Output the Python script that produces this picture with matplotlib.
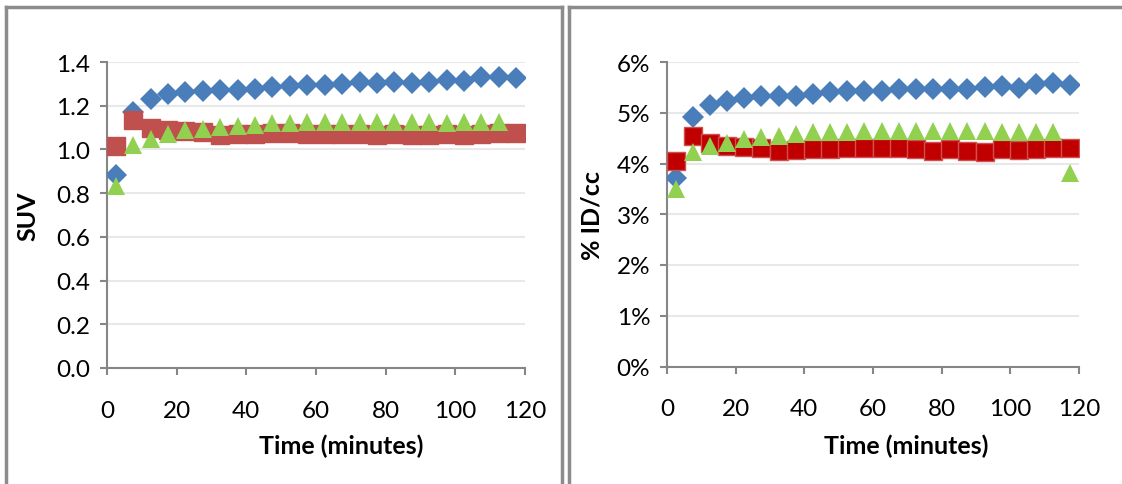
import matplotlib
matplotlib.use('Agg')
import matplotlib.pyplot as plt
from matplotlib.lines import Line2D
from matplotlib.ticker import FuncFormatter

plt.rcParams['font.family'] = ['Lato', 'DejaVu Sans']

# time points (minutes)
time = [2.5, 7.5, 12.5, 17.5, 22.5, 27.5, 32.5, 37.5, 42.5, 47.5, 52.5, 57.5,
        62.5, 67.5, 72.5, 77.5, 82.5, 87.5, 92.5, 97.5, 102.5, 107.5, 112.5, 117.5]

# left panel: SUV
suv_blue = [0.884, 1.172, 1.232, 1.252, 1.263, 1.267, 1.270, 1.273, 1.278, 1.285, 1.290, 1.293,
            1.293, 1.300, 1.308, 1.305, 1.308, 1.305, 1.310, 1.316, 1.312, 1.331, 1.331, 1.328]
suv_red = [1.015, 1.136, 1.098, 1.087, 1.083, 1.080, 1.067, 1.072, 1.072, 1.074, 1.074, 1.072,
           1.072, 1.072, 1.072, 1.064, 1.072, 1.067, 1.064, 1.072, 1.067, 1.072, 1.076, 1.076]
suv_green = [0.834, 1.020, 1.049, 1.069, 1.090, 1.095, 1.102, 1.108, 1.114, 1.119, 1.119, 1.124,
             1.126, 1.126, 1.126, 1.126, 1.126, 1.126, 1.126, 1.120, 1.126, 1.124, 1.126]

# right panel: %ID/cc
id_blue = [3.71, 4.92, 5.16, 5.24, 5.29, 5.33, 5.33, 5.33, 5.36, 5.40, 5.42, 5.42,
           5.42, 5.47, 5.47, 5.47, 5.47, 5.47, 5.50, 5.52, 5.48, 5.56, 5.59, 5.55]
id_red = [4.04, 4.54, 4.40, 4.35, 4.32, 4.30, 4.25, 4.27, 4.29, 4.29, 4.30, 4.30,
          4.31, 4.30, 4.29, 4.25, 4.29, 4.25, 4.23, 4.29, 4.27, 4.29, 4.31, 4.30]
id_green = [3.49, 4.22, 4.35, 4.40, 4.49, 4.52, 4.55, 4.59, 4.62, 4.62, 4.62, 4.65,
            4.65, 4.65, 4.65, 4.65, 4.65, 4.65, 4.65, 4.62, 4.63, 4.63, 4.63, 3.82]

x_ticks = [0, 20, 40, 60, 80, 100, 120]
suv_ticks = [0.0, 0.2, 0.4, 0.6, 0.8, 1.0, 1.2, 1.4]
id_ticks = [0, 1, 2, 3, 4, 5, 6]

BLUE = '#4A7EBB'
RED_L = '#C0504D'
RED_R = '#C00000'
GREEN = '#92D050'
AXIS = '#868686'
GRID = '#E8E8E8'

W, H = 1122, 485
fig = plt.figure(figsize=(W / 100, H / 100), dpi=100)


def style_axes(ax, yticks, xlabel, ylabel, xlab_pos, ylab_pos):
  ax.set_xlim(0, 120)
  ax.set_xticks(x_ticks)
  ax.set_yticks(yticks)
  ax.set_ylim(yticks[0], yticks[-1])
  ax.grid(axis='y', color=GRID, lw=1.5)
  ax.set_axisbelow(True)
  for s in ['top', 'right']:
    ax.spines[s].set_visible(False)
  for s in ['left', 'bottom']:
    ax.spines[s].set_color(AXIS)
    ax.spines[s].set_linewidth(1.5)
  ax.tick_params(axis='both', colors=AXIS, length=5, width=1.5, labelsize=17.5,
                 labelcolor='black')
  ax.tick_params(axis='x', pad=18)
  ax.tick_params(axis='y', pad=7)
  ax.set_xlabel(xlabel, fontsize=18, fontweight='bold', va='center')
  ax.set_ylabel(ylabel, fontsize=18, fontweight='bold', va='center')
  ax.xaxis.set_label_coords(*xlab_pos)
  ax.yaxis.set_label_coords(*ylab_pos)


def draw(ax, blue, red, green, red_face, red_edge):
  n = len(green)
  ax.plot(time, blue, ls='none', marker='D', ms=11.5, color=BLUE, mew=0, zorder=3)
  ax.plot(time, red, ls='none', marker='s', ms=13, mfc=red_face, mec=red_edge,
          mew=1, zorder=3)
  ax.plot(time[:n], green, ls='none', marker='^', ms=13.5, color=GREEN, mew=0, zorder=4)


# left panel
ax1 = fig.add_axes([107 / W, 1 - 369 / H, (525 - 107) / W, (369 - 63) / H])
draw(ax1, suv_blue, suv_red, suv_green, RED_L, RED_L)
style_axes(ax1, suv_ticks, 'Time (minutes)', 'SUV', (0.56, -0.252), (-0.188, 0.5))
ax1.yaxis.set_major_formatter(FuncFormatter(lambda v, p: '%.1f' % v))

# right panel
ax2 = fig.add_axes([667 / W, 1 - 367.5 / H, (1079 - 667) / W, (367.5 - 63) / H])
draw(ax2, id_blue, id_red, id_green, RED_R, '#D05050')
style_axes(ax2, id_ticks, 'Time (minutes)', '% ID/cc', (0.58, -0.258), (-0.182, 0.5))
ax2.yaxis.set_major_formatter(FuncFormatter(lambda v, p: '%d%%' % v))

# panel frames
frame = dict(color='#8C8C8C', lw=2.5, transform=fig.transFigure)
for x0, x1, has_right in [(6, 562, True), (569, 1130, False)]:
  fig.add_artist(Line2D([x0 / W, x0 / W], [0, 1 - 8 / H], **frame))
  fig.add_artist(Line2D([x0 / W, x1 / W], [1 - 8 / H, 1 - 8 / H], **frame))
  if has_right:
    fig.add_artist(Line2D([x1 / W, x1 / W], [0, 1 - 8 / H], **frame))

fig.savefig('out.png', dpi=100)
